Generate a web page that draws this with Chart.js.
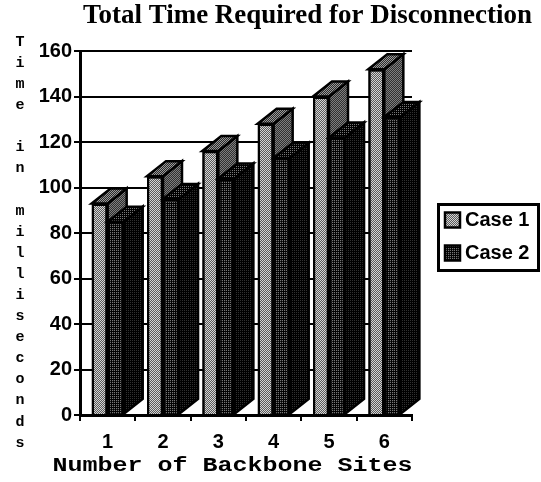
<!DOCTYPE html>
<html>
<head>
<meta charset="utf-8">
<style>html,body{margin:0;padding:0;background:#fff}canvas{display:block}</style>
<script src="https://cdn.jsdelivr.net/npm/chart.js@4"></script>
</head>
<body>
<canvas id="c" width="541" height="482"></canvas>
<script>
const categories = ['1','2','3','4','5','6'];
const case1Values = [93,105,116,128,140,152];
const case2Values = [85,95,104,113,122,131];
const seriesNames = ['Case 1','Case 2'];
const chartTitle = 'Total Time Required for Disconnection';
const xAxisTitle = 'Number of Backbone Sites';
const yAxisTitle = 'Time in milliseconds';

function pattern(rows){
  const n=rows.length, m=rows[0].length;
  const c=document.createElement('canvas'); c.width=m; c.height=n;
  const x=c.getContext('2d');
  rows.forEach((r,j)=>r.forEach((col,i)=>{x.fillStyle=col;x.fillRect(i,j,1,1);}));
  return x.createPattern(c,'repeat');
}
const L='#d4d4d4',M='#5a5a5a',K='#000',D='#1c1c1c',G='#767676',S='#303030',H='#7e7e7e',T='#9a9a9a',U='#2a2a2a';
const styles=[
 {front:pattern([[L,M],[M,L]]), side:pattern([[H,S],[S,H]]), top:pattern([[T,U],[U,T]])},
 {front:pattern([[G,D,G,K],[D,K,D,K],[G,D,G,K],[K,K,K,K]]), side:pattern([[S,K,S,K],[K,K,K,K],[S,K,S,K],[K,K,K,K]]), top:pattern([[G,K,G,K],[K,K,K,K]])}
];
const DX=19, DY=15;

const depthPlugin={
  id:'depth',
  afterLayout(chart){
    const lg=chart.legend;
    lg.left=437; lg.top=197; lg.right=539; lg.bottom=310; lg.width=102; lg.height=113;
    const t=chart.titleBlock;
    t.left=83; t.right=532; t.width=449; t.top=0;
  },
  afterDatasetsDraw(chart){
    const ctx=chart.ctx;
    categories.forEach((_,i)=>{
      chart.data.datasets.forEach((ds,d)=>{
        const el=chart.getDatasetMeta(d).data[i];
        el.draw(ctx);
        const hw=el.width/2, l=el.x-hw, r=el.x+hw, t=el.y, b=el.base;
        ctx.save();
        ctx.lineWidth=2.5; ctx.strokeStyle='#000'; ctx.lineJoin='miter';
        ctx.beginPath();
        ctx.moveTo(r,t);ctx.lineTo(r+DX,t-DY);ctx.lineTo(r+DX,b-DY);ctx.lineTo(r,b);ctx.closePath();
        ctx.fillStyle=styles[d].side;ctx.fill();ctx.stroke();
        ctx.beginPath();
        ctx.moveTo(l,t);ctx.lineTo(l+DX,t-DY);ctx.lineTo(r+DX,t-DY);ctx.lineTo(r,t);ctx.closePath();
        ctx.fillStyle=styles[d].top;ctx.fill();ctx.stroke();
        ctx.restore();
      });
    });
  },
  afterDraw(chart){
    const ctx=chart.ctx;
    ctx.save();
    ctx.strokeStyle='#000';ctx.lineWidth=3;
    ctx.strokeRect(438.5,204.5,100,66);
    ctx.fillStyle='#000';ctx.textAlign='center';ctx.textBaseline='middle';
    ctx.font='bold 15px "Liberation Mono"';
    [...yAxisTitle].forEach((ch,i)=>{ if(ch!==' ') ctx.fillText(ch,20,42+i*21.1); });
    ctx.font='bold 20px "Liberation Mono"';
    ctx.translate(232.5,466);ctx.scale(1.25,1);
    ctx.fillText(xAxisTitle,0,0);
    ctx.restore();
  }
};

new Chart(document.getElementById('c'),{
  type:'bar',
  data:{labels:categories,datasets:[
    {label:seriesNames[0],data:case1Values,backgroundColor:styles[0].front,borderColor:'#000',borderWidth:2.5,categoryPercentage:0.58,barPercentage:1},
    {label:seriesNames[1],data:case2Values,backgroundColor:styles[1].front,borderColor:'#000',borderWidth:2.5,categoryPercentage:0.58,barPercentage:1}
  ]},
  plugins:[depthPlugin],
  options:{
    responsive:false,animation:false,
    layout:{padding:{left:0,right:129,top:0,bottom:0}},
    plugins:{
      tooltip:{enabled:false},
      title:{display:true,text:chartTitle,color:'#000',font:{family:'"Liberation Serif"',size:27,weight:'bold'},padding:{top:0,bottom:51-32.4}},
      legend:{position:'chartArea',align:'start',labels:{color:'#000',font:{family:'"Liberation Sans"',size:20,weight:'bold'},usePointStyle:true,pointStyle:'rect',boxWidth:5,boxHeight:15,padding:13}}
    },
    scales:{
      x:{
        afterFit(a){a.height=67;},
        grid:{drawOnChartArea:false,drawTicks:true,tickLength:6,color:'#000',lineWidth:2},
        border:{color:'#000',width:3},
        ticks:{color:'#000',padding:9,maxRotation:0,font:{family:'"Liberation Sans"',size:20,weight:'bold'}}
      },
      y:{
        min:0,max:160,
        afterFit(a){a.width=80;},
        grid:{drawTicks:true,tickLength:6,color:'#000',lineWidth:2},
        border:{color:'#000',width:3},
        ticks:{stepSize:20,color:'#000',padding:2,font:{family:'"Liberation Sans"',size:20,weight:'bold'}}
      }
    }
  }
});
</script>
</body>
</html>
